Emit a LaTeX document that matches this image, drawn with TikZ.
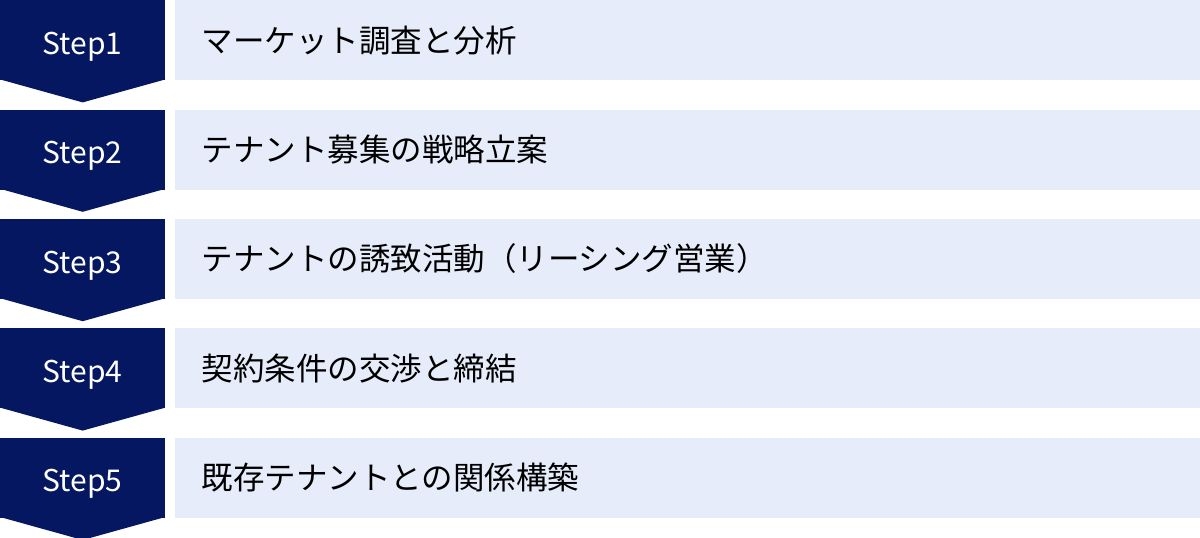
\documentclass[tikz,border=0pt]{standalone}
\usepackage{fontspec}
\setmainfont{Noto Sans CJK JP}
\usetikzlibrary{positioning,calc}
\definecolor{stepnavy}{RGB}{4,23,96}
\definecolor{rowblue}{RGB}{230,236,250}
\tikzset{
  stepbox/.style={fill=stepnavy,text=white,minimum width=165pt,minimum height=80pt,inner sep=0pt,
    text height=28pt,text depth=0pt,font=\fontsize{30}{30}\selectfont},
  itembox/.style={fill=rowblue,text=black,text width=972pt,inner xsep=27pt,inner ysep=0pt,
    minimum height=80pt,align=left,font=\fontsize{31.5}{31.5}\selectfont},
}
\newcommand{\steptip}[1]{\fill[stepnavy] ($(#1.south west)+(0,1pt)$) -- ($(#1.south east)+(0,1pt)$) -- ($(#1.south)+(0,-22pt)$) -- cycle;}
\begin{document}
\begin{tikzpicture}[x=1pt,y=1pt,node distance=29pt]
\useasboundingbox (0,0) rectangle (1200,-538);
\node[stepbox,anchor=north west] (1) at (0,0) {Step1};
\node[stepbox] (2) [below=of 1] {Step2};
\node[stepbox] (3) [below=of 2] {Step3};
\node[stepbox] (4) [below=of 3] {Step4};
\node[stepbox] (5) [below=of 4] {Step5};
\steptip{1}
\steptip{2}
\steptip{3}
\steptip{4}
\steptip{5}
\node[itembox] (a) [right=9pt of 1] {マーケット調査と分析};
\node[itembox] (b) [right=9pt of 2] {テナント募集の戦略立案};
\node[itembox] (c) [right=9pt of 3] {テナントの誘致活動（リーシング営業）};
\node[itembox] (d) [right=9pt of 4] {契約条件の交渉と締結};
\node[itembox] (e) [right=9pt of 5] {既存テナントとの関係構築};
\end{tikzpicture}
\end{document}
